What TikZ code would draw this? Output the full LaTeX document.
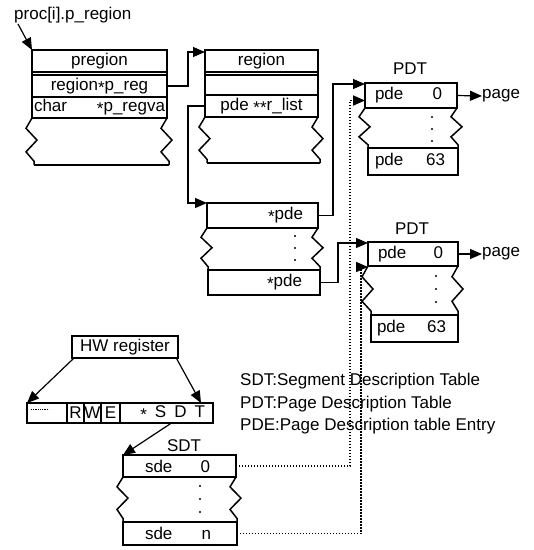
\documentclass[tikz,border=0pt]{standalone}
\usepackage{fontspec}
\setmainfont{Liberation Sans}
\usetikzlibrary{arrows.meta,calc}
\newcommand\starsym{\raisebox{-0.3ex}{*}}
\newcommand\tornside[4]{%
  \draw[boxline] (#1,#2) -- ({#1-6},{#2+0.22*(#4-#2)}) -- ({#1+5},{#2+0.47*(#4-#2)})
    -- ({#1-6},{#2+0.72*(#4-#2)}) -- ({#3},{#2+0.92*(#4-#2)}) -- (#3,#4);}
\begin{document}
\begin{tikzpicture}[x=1pt,y=-1pt,font=\fontsize{17}{20}\selectfont,
  cell/.style 2 args={draw,line width=1.5pt,anchor=north west,minimum width=#1,minimum height=#2,inner sep=0pt,outer sep=0pt},
  boxline/.style={line width=1.5pt,line join=miter},
  conn/.style={line width=1.2pt},
  tri/.style={-{Triangle[length=12pt,width=10pt]}},
  dotline/.style={line width=1.7pt,dash pattern=on 1.3pt off 1.7pt},
  lbl/.style={inner sep=0pt}]
\useasboundingbox (0,0) rectangle (534,550);

% title
\node[lbl,anchor=west] (proc) at (14,15) {proc[i].p\_region};
\coordinate (ps) at (18,24);

% pregion
\node[cell={135pt}{22pt}] (preg_h) at (32,50) {pregion};
\node[cell={135pt}{22pt}] (preg_r) at (32,75) {region\starsym p\_reg};
\node[cell={135pt}{21pt}] (preg_c) at (32,97) {\hbox to 135pt{\hskip2pt char\hfill\starsym p\_regva\hskip2pt}};
\draw[boxline] (preg_h.south west) -- (preg_r.north west);
\draw[boxline] (preg_h.south east) -- (preg_r.north east);
\tornside{32}{118}{34}{165}
\tornside{167}{118}{169}{165}
\draw[boxline] (34,165) -- (169,165);

% region
\node[cell={113pt}{22pt}] (reg_h) at (205,50) {region};
\node[cell={113pt}{20pt}] (reg_e) at (205,75) {};
\node[cell={113pt}{22pt}] (reg_l) at (205,95) {pde \starsym\starsym r\_list};
\draw[boxline] (reg_h.south west) -- (reg_e.north west);
\draw[boxline] (reg_h.south east) -- (reg_e.north east);
\tornside{205}{117}{207}{163}
\tornside{318}{117}{320}{163}
\draw[boxline] (207,163) -- (320,163);

% *pde array
\node[cell={111pt}{25pt}] (pde_a) at (207,203) {\hbox to 111pt{\hfill\starsym pde\hskip15pt}};
\node[cell={112pt}{25pt}] (pde_b) at (208,270) {\hbox to 112pt{\hfill\starsym pde\hskip18pt}};
\tornside{207}{228}{208}{270}
\tornside{318}{228}{320}{270}
\foreach \y in {236,248,260} \fill (295,\y) circle (1.1);

% PDT 1
\node[lbl] (pdt1) at (410,69) {PDT};
\node[cell={92pt}{25pt}] (pd1_0) at (365,83) {\hbox to 92pt{\hskip10pt pde\hfill 0\hskip15pt}};
\node[cell={90pt}{27pt}] (pd1_63) at (368,148) {\hbox to 90pt{\hskip7pt pde\hfill 63\hskip13pt}};
\tornside{365}{108}{368}{148}
\tornside{457}{108}{458}{148}
\foreach \y in {117,129,141} \fill (432,\y) circle (1.1);
\node[lbl,anchor=west] (page1) at (482,96) {page};

% PDT 2
\node[lbl] (pdt2) at (412,229) {PDT};
\node[cell={90pt}{24pt}] (pd2_0) at (368,242) {\hbox to 90pt{\hskip10pt pde\hfill 0\hskip15pt}};
\node[cell={87pt}{27pt}] (pd2_63) at (371,315) {\hbox to 87pt{\hskip6pt pde\hfill 63\hskip12pt}};
\tornside{368}{266}{371}{315}
\tornside{458}{266}{458}{315}
\foreach \y in {276,289,302} \fill (436,\y) circle (1.1);
\node[lbl,anchor=west] (page2) at (482,254) {page};

% HW register
\node[draw,line width=1.2pt,minimum width=106pt,minimum height=22pt,inner sep=0pt] (hw) at (125,347) {HW register};
\node[cell={40pt}{20pt}] (reg_dots) at (27,403) {};
\draw[line width=0.7pt,dash pattern=on 0.9pt off 0.9pt] (31,409) -- (49,409);
\node[cell={17pt}{20pt}] (reg_r) at (67,403) {R};
\node[cell={17pt}{20pt}] (reg_w) at (84,403) {W};
\node[cell={19pt}{20pt}] (reg_e) at (101,403) {E};
\node[cell={93pt}{20pt}] (reg_sdt) at (120,403) {\hbox to 93pt{\hfill\starsym\hskip8pt S\hskip8pt D\hskip8pt T\hskip8pt}};

% SDT
\node[lbl] (sdt) at (184,446) {SDT};
\node[cell={113pt}{22pt}] (sd_0) at (123,455) {\hbox to 113pt{\hskip22pt sde\hfill 0\hskip26pt}};
\node[cell={114pt}{23pt}] (sd_n) at (123,522) {\hbox to 114pt{\hskip22pt sde\hfill n\hskip26pt}};
\tornside{123}{477}{123}{522}
\tornside{236}{477}{237}{522}
\foreach \y in {486,499,512} \fill (200,\y) circle (1.1);

% legend
\node[lbl,anchor=west] (leg1) at (240,381) {SDT:Segment Description Table};
\node[lbl,anchor=west] (leg2) at (240,404) {PDT:Page Description Table};
\node[lbl,anchor=west] (leg3) at (240,426) {PDE:Page Description table Entry};

% connectors
\draw[conn,tri] (ps) -- (preg_h.north west);
\draw[conn,tri] (preg_r.east) -- ++(21,0) |- ($(reg_h.north west)+(0,2)$);
\draw[conn,tri] (reg_l.west) -- ++(-17,0) |- (pde_a.north west);
\draw[conn,tri] (pde_a.east) -- ++(15,0) |- ($(pd1_0.north west)+(0,1)$);
\draw[conn,tri] (pde_b.east) -- ++(18,0) |- ($(pd2_0.north west)+(0,1)$);
\draw[conn,tri] (pd1_0.east) -- (page1.west);
\draw[conn,tri] (pd2_0.east) -- (page2.west);
\draw[conn,tri] ($(hw.south west)+(2,0)$) -- (reg_dots.north west);
\draw[conn,tri] ($(hw.south east)+(-2,0)$) -- ($(reg_sdt.north east)+(-12,0)$);
\draw[conn,tri] ($(reg_sdt.south)+(5,0)$) -- (sd_0.north west);
\draw[dotline,tri] (sd_0.east) -- ++(114,0) |- ($(pd1_0.west)+(0,5)$);
\draw[dotline,tri] (sd_n.east) -- ++(124,0) |- ($(pd2_0.south west)+(0,1)$);
\end{tikzpicture}
\end{document}
